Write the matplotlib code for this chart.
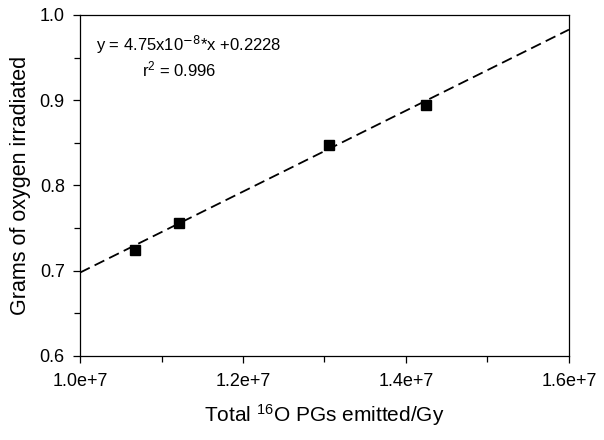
import numpy as np
import matplotlib
matplotlib.use("Agg")
import matplotlib.pyplot as plt
from matplotlib.ticker import MultipleLocator

plt.rcParams['font.family'] = ['Liberation Sans', 'DejaVu Sans']
plt.rcParams['mathtext.fontset'] = 'custom'
plt.rcParams['mathtext.rm'] = 'Liberation Sans'
plt.rcParams['mathtext.default'] = 'regular'

# datos
pg_emitidos = [1.068e7, 1.122e7, 1.305e7, 1.424e7]
gramos_oxigeno = [0.724, 0.756, 0.847, 0.894]
pendiente = 4.75e-8
intercepto = 0.2228
xticks = [1.0e7, 1.2e7, 1.4e7, 1.6e7]
xtick_labels = ["1.0e+7", "1.2e+7", "1.4e+7", "1.6e+7"]
yticks = [0.6, 0.7, 0.8, 0.9, 1.0]
ytick_labels = ["0.6", "0.7", "0.8", "0.9", "1.0"]

fig = plt.figure(figsize=(6.04, 4.40), dpi=100)
ax = fig.add_axes([0.1325, 0.191, 0.8095, 0.775])

# recta de ajuste
x_fit = np.array([xticks[0], xticks[-1]])
ax.plot(x_fit, pendiente * x_fit + intercepto, color="black", linestyle=(0, (6, 3)), linewidth=1.3)
ax.plot(pg_emitidos, gramos_oxigeno, "s", color="black", markersize=6.5)

ax.set_xlim(xticks[0], xticks[-1])
ax.set_ylim(yticks[0], yticks[-1])
ax.set_xticks(xticks)
ax.set_xticklabels(xtick_labels)
ax.set_yticks(yticks)
ax.set_yticklabels(ytick_labels)
ax.xaxis.set_minor_locator(MultipleLocator(0.1e7))
ax.yaxis.set_minor_locator(MultipleLocator(0.05))
ax.tick_params(which="both", direction="out", top=False, right=False, labelsize=13, colors="black")
ax.tick_params(axis="x", which="major", pad=7)
ax.tick_params(axis="y", which="major", pad=6)
ax.tick_params(which="major", length=5, width=0.9)
ax.tick_params(which="minor", length=4, width=0.9)
for s in ax.spines.values():
    s.set_linewidth(0.9)

ax.text(0.033, 0.912, "y = 4.75x10$^{\\mathsf{-8}}$*x +0.2228", transform=ax.transAxes, fontsize=12, va="center")
ax.text(0.127, 0.839, "r$^{2}$ = 0.996", transform=ax.transAxes, fontsize=12, va="center")

ax.set_xlabel("Total $^{16}$O PGs emitted/Gy", fontsize=15, labelpad=9)
ax.set_ylabel("Grams of oxygen irradiated", fontsize=15.5, labelpad=6)

fig.savefig("out.png", dpi=100)
